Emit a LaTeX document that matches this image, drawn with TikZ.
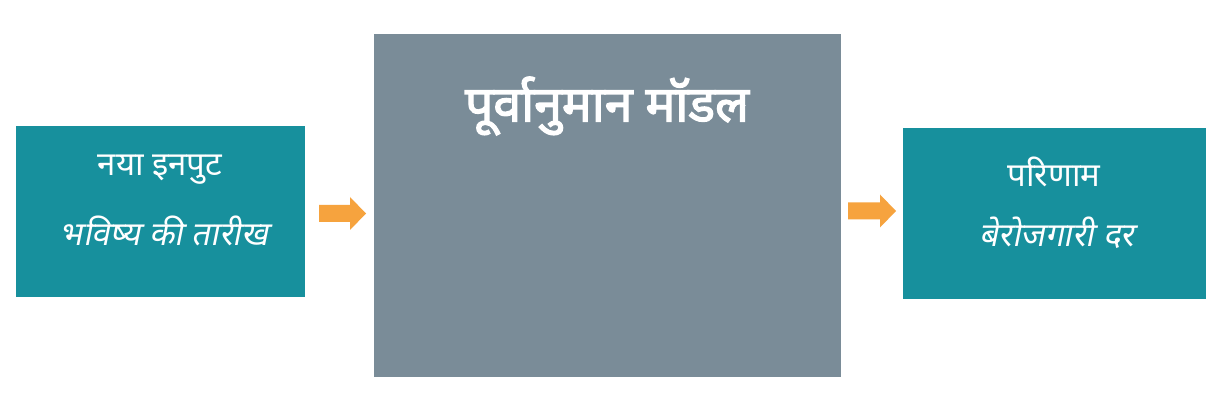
\documentclass[tikz,border=0pt]{standalone}
\usepackage{fontspec}
\newfontfamily\deva[Script=Devanagari]{Noto Sans}
\newfontfamily\devabold[Script=Devanagari,FakeBold=2.5]{Noto Sans}
\newfontfamily\devaslant[Script=Devanagari,FakeSlant=0.2]{Noto Sans}
\definecolor{tealbox}{HTML}{17909D}
\definecolor{greybox}{HTML}{7A8C98}
\definecolor{arroworange}{HTML}{F6A33E}
\begin{document}
\begin{tikzpicture}[x=1pt,y=-1pt,
  box/.style={fill=tealbox,draw=none,inner sep=0pt,anchor=north west},
  txt/.style={text=white,inner sep=0pt},
  fatarrow/.style={fill=arroworange,draw=none}]
\useasboundingbox[fill=white] (0,0) rectangle (1220,411);
% boxes
\node[box,minimum width=289pt,minimum height=171pt] (inp) at (16,126) {};
\node[box,fill=greybox,minimum width=467pt,minimum height=343pt] (model) at (374,34) {};
\node[box,minimum width=303pt,minimum height=171pt] (out) at (903,128) {};
% texts
\node[txt,font=\deva\fontsize{33}{38}\selectfont] (inp1) at (160,170) {नया इनपुट};
\node[txt,font=\devaslant\fontsize{33}{38}\selectfont] (inp2) at (164,231) {भविष्य की तारीख};
\node[txt,font=\devabold\fontsize{50}{58}\selectfont] (title) at (607,106) {पूर्वानुमान मॉडल};
\node[txt,font=\deva\fontsize{33}{38}\selectfont] (out1) at (1054,172) {परिणाम};
\node[txt,font=\devaslant\fontsize{33}{38}\selectfont] (out2) at (1057,233) {बेरोजगारी दर};
% arrows
\coordinate (a1) at (319,213.5);
\coordinate (a2) at (848,211);
\fill[fatarrow] (a1) ++(0,-8.5) -- ++(31,0) -- ++(0,-8) -- ++(16,16.5) -- ++(-16,16.5) -- ++(0,-8) -- ++(-31,0) -- cycle;
\fill[fatarrow] (a2) ++(0,-8.5) -- ++(32,0) -- ++(0,-8) -- ++(16,16.5) -- ++(-16,16.5) -- ++(0,-8) -- ++(-32,0) -- cycle;
\end{tikzpicture}
\end{document}
